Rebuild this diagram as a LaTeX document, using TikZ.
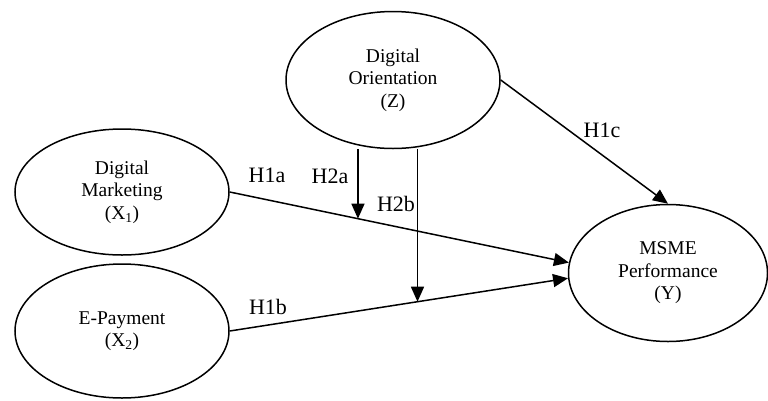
\documentclass[tikz,border=0pt]{standalone}
\usepackage{fontspec}
\setmainfont{Liberation Serif}
\usetikzlibrary{arrows.meta,shapes.geometric}

\begin{document}
\begin{tikzpicture}[x=1pt,y=-1pt,line width=1.5pt,
  construct/.style={draw,ellipse,inner sep=0pt,align=center,font=\fontsize{19.5}{22.5}\selectfont},
  path arrow/.style={-{Triangle[length=15pt,width=13pt]}},
  hyp label/.style={inner sep=0pt,font=\fontsize{22}{25}\selectfont}]
\path[use as bounding box] (0,0) rectangle (768,400);
\node[construct,minimum width=214pt,minimum height=126pt] (dm) at (122,192) {Digital\\Marketing\\(X\textsubscript{1})};
\node[construct,minimum width=214pt,minimum height=134pt] (ep) at (122,331) {E-Payment\\(X\textsubscript{2})};
\node[construct,minimum width=214pt,minimum height=137pt] (do) at (393,80) {Digital\\Orientation\\(Z)};
\node[construct,minimum width=199pt,minimum height=137pt] (msme) at (668,273) {MSME\\Performance\\(Y)};
\draw[path arrow] (dm.east) -- coordinate[pos=.378] (h2atip) (msme.174);
\draw[path arrow] (ep.east) -- coordinate[pos=.555] (h2btip) (msme.183);
\draw[path arrow] (do.east) -- (msme.north);
\draw[path arrow] (h2atip |- do.south) -- (h2atip);
\draw[path arrow] (h2btip |- do.south) -- (h2btip);
\node[hyp label] (h1a) at (267,175) {H1a};
\node[hyp label] (h2a) at (330,176) {H2a};
\node[hyp label] (h2b) at (396,204) {H2b};
\node[hyp label] (h1b) at (268,307) {H1b};
\node[hyp label] (h1c) at (602,130) {H1c};
\end{tikzpicture}
\end{document}
